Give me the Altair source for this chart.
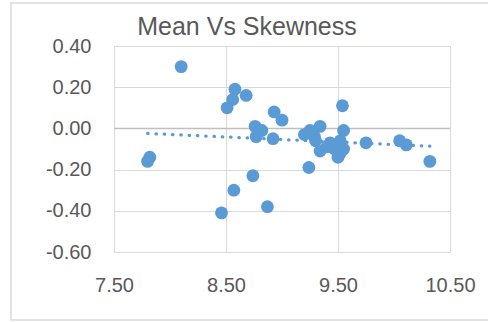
import altair as alt
import pandas as pd

# Mean and skewness per sample
mean_vals = [8.10, 8.58, 8.68, 8.56, 8.51, 8.93, 9.00, 8.76, 8.82, 8.77,
             8.92, 7.82, 7.80, 8.74, 8.57, 8.87, 8.46, 9.54, 9.34, 9.25,
             9.20, 9.29, 9.55, 9.43, 9.34, 9.50, 9.55, 9.47, 9.52, 9.24,
             9.75, 10.05, 10.11, 10.32, 9.40, 9.30, 9.52]
skew_vals = [0.30, 0.19, 0.16, 0.14, 0.10, 0.08, 0.04, 0.01, -0.01, -0.04,
             -0.05, -0.14, -0.16, -0.23, -0.30, -0.38, -0.41, 0.11, 0.01, -0.01,
             -0.03, -0.04, -0.01, -0.07, -0.11, -0.14, -0.10, -0.10, -0.06, -0.19,
             -0.07, -0.06, -0.08, -0.16, -0.09, -0.06, -0.12]

x_ticks = [7.5, 8.5, 9.5, 10.5]
y_ticks = [-0.6, -0.4, -0.2, 0.0, 0.2, 0.4]

df = pd.DataFrame({"Mean": mean_vals, "Skewness": skew_vals})

BLUE = "#5B9BD5"
TEXT = "#595959"
FONT = "Liberation Sans"

# two decimals with a plain hyphen for negatives
LABEL = ("datum.value < 0 ? '-' + format(-datum.value, '.2f') "
         ": format(datum.value, '.2f')")

axis_style = dict(title=None, labelFontSize=20, labelColor=TEXT, labelFont=FONT,
                  ticks=False, tickSize=0, domain=False, labelPadding=23,
                  grid=True, gridColor="#d9d9d9", labelFlush=False,
                  labelExpr=LABEL)

x_enc = alt.X("Mean:Q",
              scale=alt.Scale(domain=[7.5, 10.5], nice=False, zero=False),
              axis=alt.Axis(values=x_ticks, **axis_style))
y_enc = alt.Y("Skewness:Q",
              scale=alt.Scale(domain=[-0.6, 0.4], nice=False, zero=False),
              axis=alt.Axis(values=y_ticks, **axis_style))

one = pd.DataFrame({"label": ["Mean Vs Skewness"]})

# Chart-area frame (right side runs past the page edge)
frame = alt.Chart(one).mark_rect(
    fill=None, stroke="#d9d9d9", strokeWidth=1.5
).encode(x=alt.value(-103), x2=alt.value(420), y=alt.value(-43), y2=alt.value(274))

# Chart title
title = alt.Chart(one).mark_text(
    font=FONT, fontSize=25, color=TEXT, align="center", baseline="alphabetic"
).encode(x=alt.value(133), y=alt.value(-11), text="label:N")

# Horizontal axis line at zero
zero_line = alt.Chart(one).mark_rule(
    color="#bfbfbf", strokeWidth=1.5
).encode(y=alt.datum(0))

points = alt.Chart(df).mark_circle(size=165, color=BLUE, opacity=1).encode(
    x=x_enc, y=y_enc
)

trend = alt.Chart(df).transform_regression(
    "Mean", "Skewness", method="linear"
).mark_line(color=BLUE, strokeWidth=3.2, strokeDash=[0.5, 7.8], strokeCap="round").encode(
    x="Mean:Q", y="Skewness:Q"
)

chart = alt.layer(frame, title, zero_line, trend, points).properties(
    width=336, height=206,
    padding={"left": 114, "top": 46, "right": 38, "bottom": 70},
    autosize=alt.AutoSizeParams(type="none"),
).configure_view(stroke=None).configure(background="white")

chart.save("out.html", embed_options={"renderer": "svg", "actions": False})
